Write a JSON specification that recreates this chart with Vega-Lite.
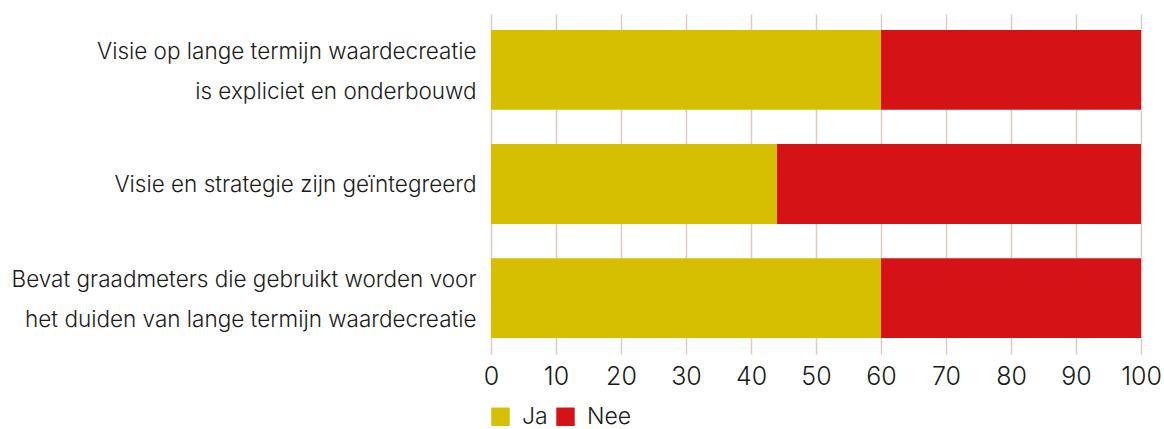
{
  "$schema": "https://vega.github.io/schema/vega-lite/v6.json",
  "autosize": {"type": "none"},
  "padding": {"left": 491, "top": 14, "right": 23, "bottom": 75},
  "width": 650,
  "height": 340,
  "background": "white",
  "data": {
    "values": [
      {"item": "Visie op lange termijn waardecreatie|is expliciet en onderbouwd", "antwoord": "Ja", "pct": 60},
      {"item": "Visie op lange termijn waardecreatie|is expliciet en onderbouwd", "antwoord": "Nee", "pct": 40},
      {"item": "Visie en strategie zijn geïntegreerd", "antwoord": "Ja", "pct": 44},
      {"item": "Visie en strategie zijn geïntegreerd", "antwoord": "Nee", "pct": 56},
      {"item": "Bevat graadmeters die gebruikt worden voor|het duiden van lange termijn waardecreatie", "antwoord": "Ja", "pct": 60},
      {"item": "Bevat graadmeters die gebruikt worden voor|het duiden van lange termijn waardecreatie", "antwoord": "Nee", "pct": 40}
    ]
  },
  "mark": {"type": "bar"},
  "encoding": {
    "y": {
      "field": "item",
      "type": "nominal",
      "sort": null,
      "scale": {"paddingInner": 0.3, "paddingOuter": 0.14},
      "axis": {
        "title": null,
        "domain": false,
        "ticks": false,
        "labelExpr": "split(datum.value, '|')",
        "labelFont": "Inter",
        "labelFontWeight": 300,
        "labelFontSize": 22.5,
        "labelLineHeight": 40,
        "labelColor": "#1a1a1a",
        "labelPadding": 15,
        "labelLimit": 500,
        "labelOffset": {"condition": {"test": "indexof(datum.value, '|') >= 0", "value": -18}, "value": 1}
      }
    },
    "x": {
      "field": "pct",
      "type": "quantitative",
      "stack": "zero",
      "scale": {"domain": [0, 100], "nice": false},
      "axis": {
        "title": null,
        "domain": false,
        "ticks": false,
        "values": [0, 10, 20, 30, 40, 50, 60, 70, 80, 90, 100],
        "grid": true,
        "gridColor": "#dcccc4",
        "gridWidth": 1.5,
        "labelFlush": false,
        "labelFont": "Inter",
        "labelFontWeight": 300,
        "labelFontSize": 25,
        "labelColor": "#1a1a1a",
        "labelPadding": 10
      }
    },
    "color": {
      "field": "antwoord",
      "type": "nominal",
      "scale": {"domain": ["Ja", "Nee"], "range": ["#d6be00", "#d51317"]},
      "legend": {
        "title": null,
        "orient": "none",
        "direction": "horizontal",
        "legendX": -2,
        "legendY": 391,
        "symbolType": "square",
        "symbolSize": 340,
        "symbolStrokeWidth": 0,
        "symbolOpacity": 1,
        "labelFont": "Inter",
        "labelFontWeight": 300,
        "labelFontSize": 23,
        "labelColor": "#1a1a1a",
        "labelOffset": 10,
        "columnPadding": 6
      }
    }
  },
  "config": {"view": {"stroke": null}}
}
